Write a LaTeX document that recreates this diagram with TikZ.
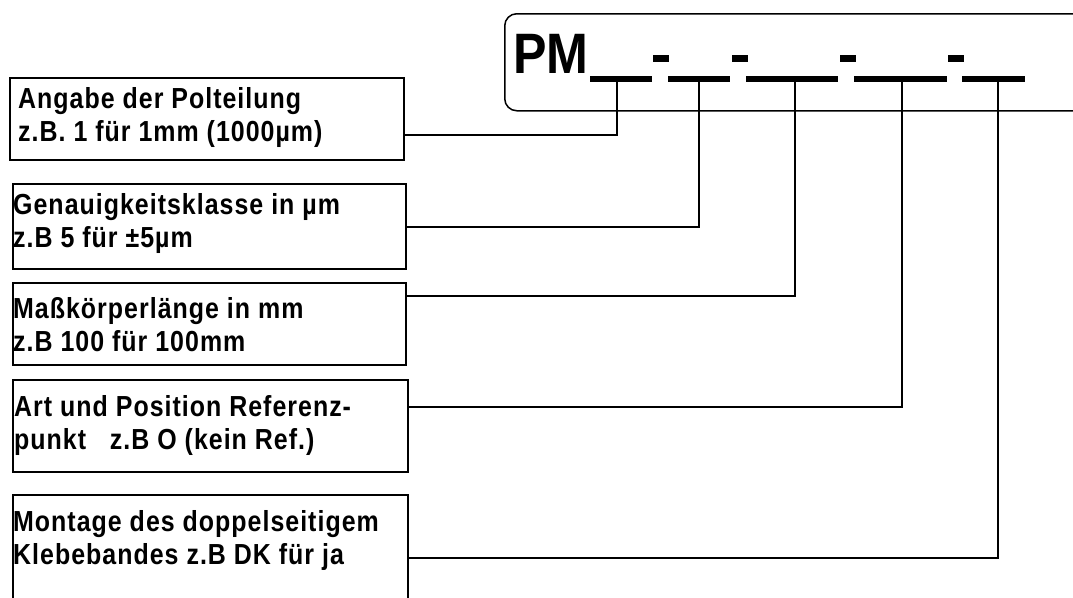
\documentclass[tikz,border=0pt]{standalone}
\usepackage{fontspec}
\setmainfont{Liberation Sans}
\newfontfamily\lblfont{Liberation Sans}[FakeStretch=0.86, LetterSpace=3.5]
\newfontfamily\codefont{Liberation Sans}[FakeStretch=0.88]

\begin{document}
\begin{tikzpicture}[
    x=1pt, y=-1pt,
    every node/.style={font=\lblfont\bfseries\fontsize{29}{33}\selectfont},
    infobox/.style={draw, line width=1.5pt, anchor=north west, inner sep=0pt},
    infotext/.style={anchor=north west, align=left, inner sep=0pt},
    link/.style={line width=1.3pt},
]
\useasboundingbox (0,0) rectangle (1073,597);

% -- Typenschluessel oben --
\node[draw, line width=1.5pt, rounded corners=12pt, anchor=north west,
      minimum width=590, minimum height=97, inner sep=0pt] (frame) at (504,13) {};
\node[font=\codefont\bfseries\fontsize{57}{57}\selectfont, anchor=base west,
      inner sep=0pt] (pm) at (513,73) {PM};
% Striche und Trennzeichen
\foreach \a/\b in {590/652, 668/730, 746/838, 854/947, 962/1025}
    \fill (\a,76) rectangle (\b,82);
\foreach \a in {653, 732, 840, 948}
    \fill (\a,55) rectangle ++(16,7);
\foreach \n/\x in {1/617, 2/699, 3/795, 4/902, 5/998}
    \coordinate (pin\n) at (\x,79);

% -- Erklaerungskaesten --
\node[infobox, minimum width=394, minimum height=82] (polt) at (9,77) {};
\node[infobox, minimum width=393, minimum height=85] (gen) at (12,183) {};
\node[infobox, minimum width=393, minimum height=82] (mass) at (12,282) {};
\node[infobox, minimum width=395, minimum height=92] (ref) at (12,379) {};
\node[infobox, minimum width=395, minimum height=140] (kleb) at (12,494) {};

\node[infotext] (poltT) at (18,87)
    {Angabe der Polteilung\\z.B. 1 für 1mm (1000µm)};
\node[infotext] (genT) at (13,193)
    {Genauigkeitsklasse in µm\\z.B 5 für ±5µm};
\node[infotext] (massT) at (13,297)
    {Maßkörperlänge in mm\\z.B 100 für 100mm};
\node[infotext] (refT) at (14,395)
    {Art und Position Referenz-\\punkt\ \ \ z.B O (kein Ref.)};
\node[infotext] (klebT) at (13,510)
    {Montage des doppelseitigem\\Klebebandes z.B DK für ja};

% -- Verbindungen --
\draw[link] (polt.east |- 0,135) -| (pin1);
\draw[link] (gen.east |- 0,227) -| (pin2);
\draw[link] (mass.east |- 0,296) -| (pin3);
\draw[link] (ref.east |- 0,407) -| (pin4);
\draw[link] (kleb.east |- 0,558) -| (pin5);
\end{tikzpicture}
\end{document}
